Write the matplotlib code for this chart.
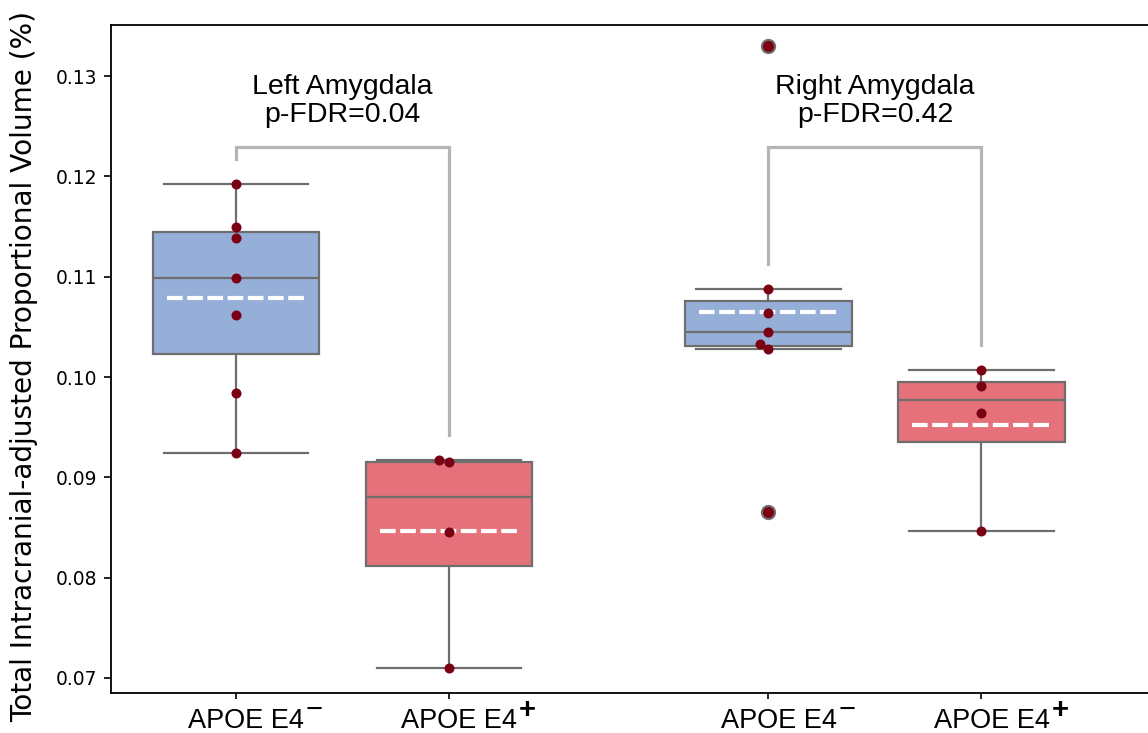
import numpy as np
import matplotlib
matplotlib.use('Agg')
import matplotlib.pyplot as plt
import matplotlib.transforms as mtransforms

plt.rcParams['font.family'] = ['DejaVu Sans']

# ==================== data ====================
regions = ['Left Amygdala', 'Right Amygdala']
p_fdr = ['0.04', '0.42']
group_labels = ['APOE E4', 'APOE E4', 'APOE E4', 'APOE E4']
group_signs = ['\u2212', '+', '\u2212', '+']

left_neg = [0.1192, 0.1150, 0.1139, 0.1099, 0.1062, 0.0984, 0.0924]
left_pos = [0.0917, 0.0915, 0.0846, 0.0710]
right_neg = [0.1330, 0.1088, 0.1064, 0.1045, 0.1033, 0.1028, 0.0865]
right_pos = [0.1007, 0.0991, 0.0964, 0.0847]
groups = [left_neg, left_pos, right_neg, right_pos]

# small horizontal jitter seen on a few dots
strip_dx = [[0, 0, 0, 0, 0, 0, 0],
            [-0.045, 0, 0, 0],
            [0, 0, 0, 0, -0.04, 0, 0],
            [0, 0, 0, 0]]

bracket_y = 0.1229

# ==================== style ====================
positions = [0, 1, 2.5, 3.5]
c_blue = '#96afd9'
c_red = '#e5727a'
c_edge = '#6e6e6e'
c_dot = '#7c0014'
c_bracket = '#b5b5b5'
box_colors = [c_blue, c_red, c_blue, c_red]

fig = plt.figure(figsize=(11.48, 7.33), dpi=100)
ax = fig.add_axes([111 / 1148, 40 / 733, 1 - 111 / 1148, 668 / 733])

bp = ax.boxplot(groups, positions=positions, widths=0.78, patch_artist=True,
                capwidths=0.68, whis=1.5, manage_ticks=False,
                boxprops=dict(edgecolor=c_edge, linewidth=1.6),
                medianprops=dict(color=c_edge, linewidth=1.6),
                whiskerprops=dict(color=c_edge, linewidth=1.6),
                capprops=dict(color=c_edge, linewidth=1.6),
                flierprops=dict(marker='o', markerfacecolor=c_dot,
                                markeredgecolor='#707070', markersize=9.5,
                                markeredgewidth=1.5))
for patch, col in zip(bp['boxes'], box_colors):
    patch.set_facecolor(col)
for fl in bp['fliers']:
    fl.set_zorder(5)

# mean lines (white dashed)
for pos, vals in zip(positions, groups):
    m = np.mean(vals)
    ax.plot([pos - 0.325, pos + 0.325], [m, m], color='white', linewidth=3,
            dashes=(3.75, 1.1), dash_capstyle='butt', zorder=3)

# strip points
for pos, vals, dx in zip(positions, groups, strip_dx):
    ax.scatter(np.array(dx) + pos, vals, s=52, color=c_dot, zorder=4, linewidths=0)

# brackets + titles
for k in range(2):
    p1, p2 = positions[2 * k], positions[2 * k + 1]
    tops = []
    for vals in (groups[2 * k], groups[2 * k + 1]):
        q1, q3 = np.percentile(vals, [25, 75])
        hi = q3 + 1.5 * (q3 - q1)
        tops.append(max(v for v in vals if v <= hi) + 0.0025)
    ax.plot([p1, p1, p2, p2], [tops[0], bracket_y, bracket_y, tops[1]],
            color=c_bracket, linewidth=2.3, zorder=2, solid_joinstyle='miter')
    ax.text((p1 + p2) / 2, 0.1248, f'{regions[k]}\np-FDR={p_fdr[k]}',
            ha='center', va='bottom', fontsize=20.5, linespacing=1.1,
            family='Liberation Sans')

ax.set_xlim(-0.587, 4.282)
ax.set_ylim(0.0685, 0.1351)
ax.set_yticks([0.07, 0.08, 0.09, 0.10, 0.11, 0.12, 0.13])
ax.set_yticklabels(['0.07', '0.08', '0.09', '0.10', '0.11', '0.12', '0.13'])
ax.set_xticks(positions)
ax.set_xticklabels(group_labels, fontsize=19.5, family='Liberation Sans')
ax.tick_params(axis='y', labelsize=13.5, length=5, width=1.2, pad=5)
ax.tick_params(axis='x', length=4.5, width=1.2, pad=6.3)

# labels sit a little right of their ticks in the original
shift = mtransforms.ScaledTranslation(10 / 100, 0, fig.dpi_scale_trans)
for lab in ax.get_xticklabels():
    lab.set_transform(lab.get_transform() + shift)

# large raised superscript signs
for pos, sign in zip(positions, group_signs):
    ax.annotate(sign, xy=(pos, 0), xycoords=ax.get_xaxis_transform(),
                xytext=(70 * 0.72, -25 * 0.72), textcoords='offset points',
                ha='left', va='baseline', fontsize=21, family='Liberation Sans',
                fontweight='bold' if sign == '+' else 'normal', annotation_clip=False)

ax.spines['right'].set_visible(False)
for s in ['left', 'top', 'bottom']:
    ax.spines[s].set_linewidth(1.3)

ax.set_ylabel('Total Intracranial-adjusted Proportional Volume (%)', fontsize=20.2)
ax.yaxis.set_label_coords(-0.07, 0.489)

fig.savefig('out.png', dpi=100, facecolor='white')
